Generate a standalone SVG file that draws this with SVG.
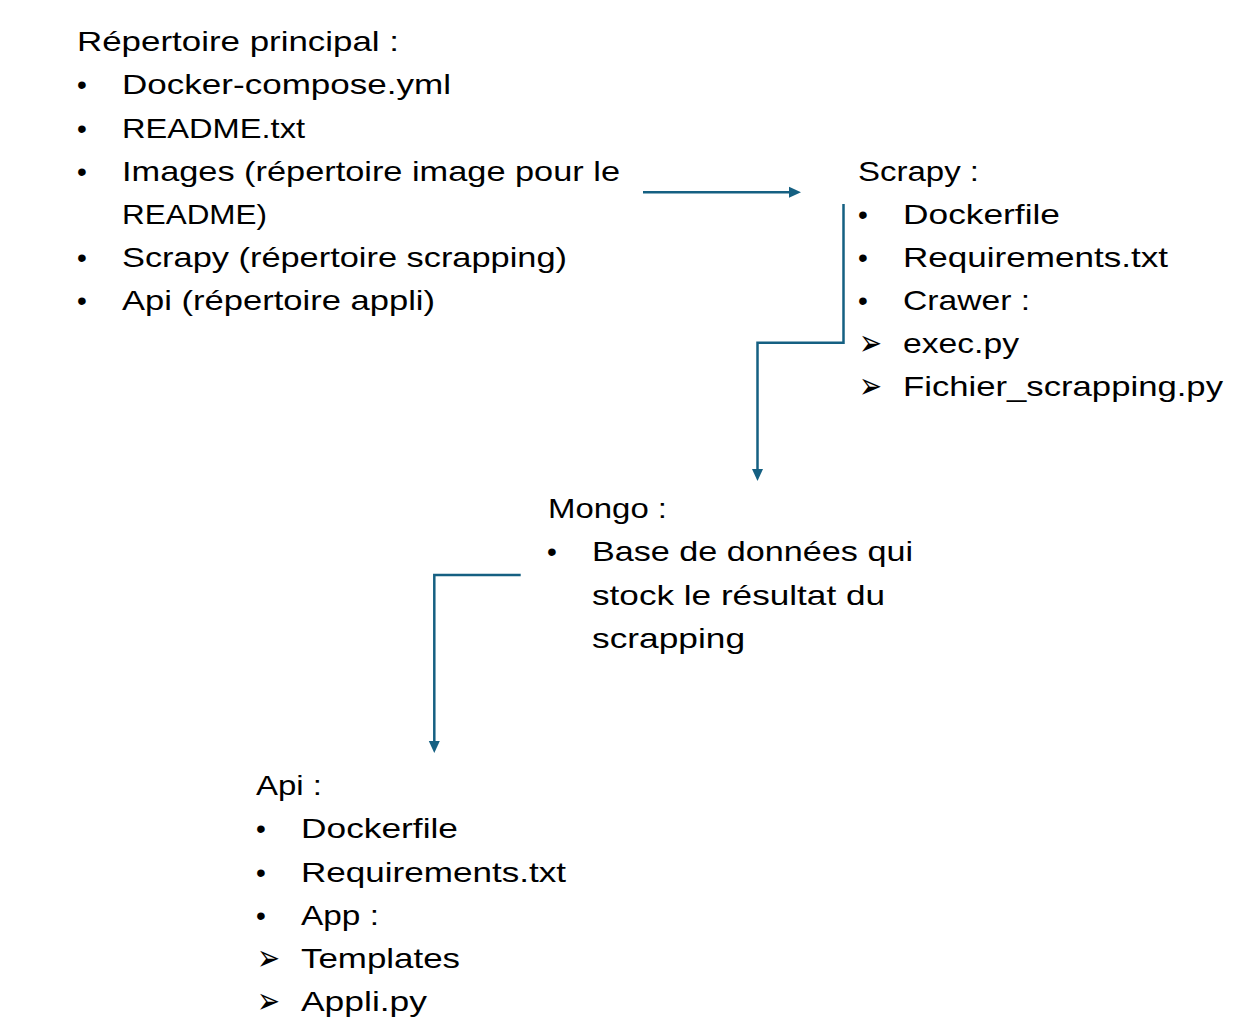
<svg xmlns="http://www.w3.org/2000/svg" width="1248" height="1025" viewBox="0 0 1248 1025">
<style>
  text { font-family: "Liberation Sans", Arial, sans-serif; font-size: 28px; fill: #000; }
  .arr { font-family: "DejaVu Sans", sans-serif; font-size: 36px; }
  .conn { fill: none; stroke: #156082; stroke-width: 2.5; marker-end: url(#ah); }
</style>
<defs>
  <marker id="ah" markerUnits="userSpaceOnUse" markerWidth="12" markerHeight="12" refX="0" refY="6" orient="auto" viewBox="0 0 12 12">
    <path d="M0,0.5 L12,6 L0,11.5 z" fill="#156082"/>
  </marker>
</defs>
<rect width="1248" height="1025" fill="#fff"/>

<g id="connectors">
  <path class="conn" d="M643,192.3 H789"/>
  <path class="conn" d="M843.5,204 V342.7 H757.5 V469"/>
  <path class="conn" d="M520.7,575 H434.3 V741"/>
</g>

<g id="repertoire-principal">
  <text x="77" y="51" textLength="322" lengthAdjust="spacingAndGlyphs">Répertoire principal :</text>
  <text x="77" y="94">•</text>
  <text x="122" y="94" textLength="329" lengthAdjust="spacingAndGlyphs">Docker-compose.yml</text>
  <text x="77" y="137.5">•</text>
  <text x="122" y="137.5" textLength="183" lengthAdjust="spacingAndGlyphs">README.txt</text>
  <text x="77" y="180.5">•</text>
  <text x="122" y="180.5" textLength="498" lengthAdjust="spacingAndGlyphs">Images (répertoire image pour le</text>
  <text x="122" y="224" textLength="145" lengthAdjust="spacingAndGlyphs">README)</text>
  <text x="77" y="267">•</text>
  <text x="122" y="267" textLength="445" lengthAdjust="spacingAndGlyphs">Scrapy (répertoire scrapping)</text>
  <text x="77" y="310">•</text>
  <text x="122" y="310" textLength="313" lengthAdjust="spacingAndGlyphs">Api (répertoire appli)</text>
</g>

<g id="scrapy">
  <text x="858" y="181" textLength="121" lengthAdjust="spacingAndGlyphs">Scrapy :</text>
  <text x="858" y="224">•</text>
  <text x="903" y="224" textLength="157" lengthAdjust="spacingAndGlyphs">Dockerfile</text>
  <text x="858" y="267">•</text>
  <text x="903" y="267" textLength="265" lengthAdjust="spacingAndGlyphs">Requirements.txt</text>
  <text x="858" y="310">•</text>
  <text x="903" y="310" textLength="127" lengthAdjust="spacingAndGlyphs">Crawer :</text>
  <text class="arr" x="859" y="355" textLength="23" lengthAdjust="spacingAndGlyphs">➢</text>
  <text x="903" y="353" textLength="116" lengthAdjust="spacingAndGlyphs">exec.py</text>
  <text class="arr" x="859" y="398" textLength="23" lengthAdjust="spacingAndGlyphs">➢</text>
  <text x="903" y="396" textLength="320" lengthAdjust="spacingAndGlyphs">Fichier_scrapping.py</text>
</g>

<g id="mongo">
  <text x="548" y="518" textLength="119" lengthAdjust="spacingAndGlyphs">Mongo :</text>
  <text x="547" y="561">•</text>
  <text x="592" y="561" textLength="321" lengthAdjust="spacingAndGlyphs">Base de données qui</text>
  <text x="592" y="605" textLength="293" lengthAdjust="spacingAndGlyphs">stock le résultat du</text>
  <text x="592" y="648" textLength="153" lengthAdjust="spacingAndGlyphs">scrapping</text>
</g>

<g id="api">
  <text x="256" y="795" textLength="66" lengthAdjust="spacingAndGlyphs">Api :</text>
  <text x="256" y="838">•</text>
  <text x="301" y="838" textLength="157" lengthAdjust="spacingAndGlyphs">Dockerfile</text>
  <text x="256" y="882">•</text>
  <text x="301" y="882" textLength="265" lengthAdjust="spacingAndGlyphs">Requirements.txt</text>
  <text x="256" y="925">•</text>
  <text x="301" y="925" textLength="78" lengthAdjust="spacingAndGlyphs">App :</text>
  <text class="arr" x="257" y="970" textLength="23" lengthAdjust="spacingAndGlyphs">➢</text>
  <text x="301" y="968" textLength="159" lengthAdjust="spacingAndGlyphs">Templates</text>
  <text class="arr" x="257" y="1013" textLength="23" lengthAdjust="spacingAndGlyphs">➢</text>
  <text x="301" y="1011" textLength="126" lengthAdjust="spacingAndGlyphs">Appli.py</text>
</g>
</svg>
